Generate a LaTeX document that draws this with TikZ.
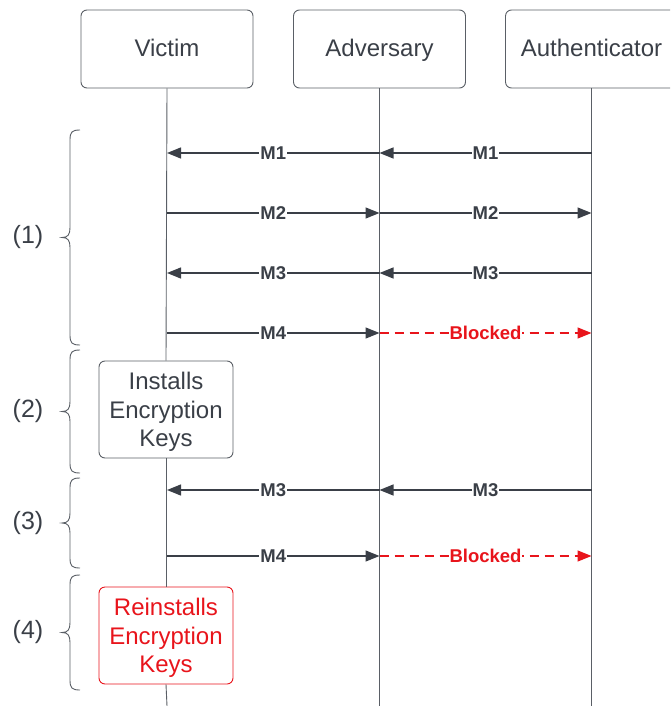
\documentclass[tikz,border=0pt]{standalone}
\usepackage{fontspec}
\setmainfont{Liberation Sans}
\usetikzlibrary{arrows.meta}
\definecolor{ink}{HTML}{3A3F47}
\definecolor{lineg}{HTML}{5A5F66}
\definecolor{alert}{HTML}{E8141B}
\tikzset{
  actor/.style={draw=lineg, line width=0.9pt, rounded corners=6pt, minimum width=172pt, minimum height=78pt, font=\fontsize{24}{28}\selectfont, text=ink, inner sep=0pt, text height=19pt, text depth=3pt},
  note/.style={draw=lineg, line width=0.9pt, rounded corners=6pt, minimum width=134pt, minimum height=97pt, font=\fontsize{24}{28.5}\selectfont, text=ink, align=center, inner sep=0pt},
  lifeline/.style={draw=lineg, line width=0.9pt},
  msg/.style={draw=ink, line width=1.3pt, -{Triangle[length=14pt,width=11pt]}},
  blocked/.style={draw=alert, line width=1.3pt, dash pattern=on 9pt off 6pt, -{Triangle[length=14pt,width=11pt]}},
  mlabel/.style={font=\fontsize{18.5}{22}\selectfont\bfseries, text=ink, fill=white, inner sep=1pt},
  blabel/.style={font=\fontsize{18.5}{22}\selectfont\bfseries, text=alert, fill=white, inner sep=1pt},
  brace/.style={draw=lineg, line width=0.9pt},
  phase/.style={font=\fontsize{25}{30}\selectfont, text=ink},
}
\newcommand{\notetext}[1]{\raisebox{-2.5pt}[\height][\depth]{\parbox{130pt}{\centering #1}}}
\begin{document}
\begin{tikzpicture}[x=1pt,y=-1pt]
\useasboundingbox (0,0) rectangle (670,706);
\begin{scope}
\clip (0,0) rectangle (670,706);
% participants
\node[actor] (vic) at (167,49) {Victim};
\node[actor] (adv) at (379.5,49) {Adversary};
\node[actor] (aut) at (591.5,49) {Authenticator};
% lifeline ends
\coordinate (vbot) at (167,706);
\coordinate (abot) at (379.5,706);
\coordinate (ubot) at (591.5,706);
% notes on the victim lifeline
\node[note] (inst) at (166,409.5) {\notetext{Installs\\Encryption\\Keys}};
\node[note, draw=alert, text=alert] (reinst) at (166,635.5) {\notetext{Reinstalls\\Encryption\\Keys}};
\draw[lifeline] (vic.south) -- (inst.north);
\draw[lifeline] (inst.south) -- (reinst.north);
\draw[lifeline] (reinst.south) -- (vbot);
\draw[lifeline] (adv.south) -- (abot);
\draw[lifeline] (aut.south) -- (ubot);
\end{scope}
% message anchors on the lifelines
\foreach \n/\y in {1/153,2/213,3/273,4/333,5/490,6/556}{
  \coordinate (v\n) at (167,\y);
  \coordinate (a\n) at (379.5,\y);
  \coordinate (u\n) at (591.5,\y);
}
% phase 1
\draw[msg] (a1) -- node[mlabel]{M1} (v1);
\draw[msg] (u1) -- node[mlabel]{M1} (a1);
\draw[msg] (v2) -- node[mlabel]{M2} (a2);
\draw[msg] (a2) -- node[mlabel]{M2} (u2);
\draw[msg] (a3) -- node[mlabel]{M3} (v3);
\draw[msg] (u3) -- node[mlabel]{M3} (a3);
\draw[msg] (v4) -- node[mlabel]{M4} (a4);
\draw[blocked] (a4) -- node[blabel]{Blocked} (u4);
% phase 3
\draw[msg] (a5) -- node[mlabel]{M3} (v5);
\draw[msg] (u5) -- node[mlabel]{M3} (a5);
\draw[msg] (v6) -- node[mlabel]{M4} (a6);
\draw[blocked] (a6) -- node[blabel]{Blocked} (u6);
% phase braces
\foreach \t/\b/\l in {130/345/1, 350/473/2, 478/568/3, 575/690/4}{
  \pgfmathsetmacro{\m}{(\t+\b)/2}
  \draw[brace] (80,\t) .. controls (72,\t) and (70,\t+2) .. (70,\t+10)
    -- (70,\m-10) .. controls (70,\m-3) and (68,\m) .. (62,\m)
    .. controls (68,\m) and (70,\m+3) .. (70,\m+10)
    -- (70,\b-10) .. controls (70,\b-2) and (72,\b) .. (80,\b);
  \node[phase] (p\l) at (28,\m) {(\l)};
}
\end{tikzpicture}
\end{document}
